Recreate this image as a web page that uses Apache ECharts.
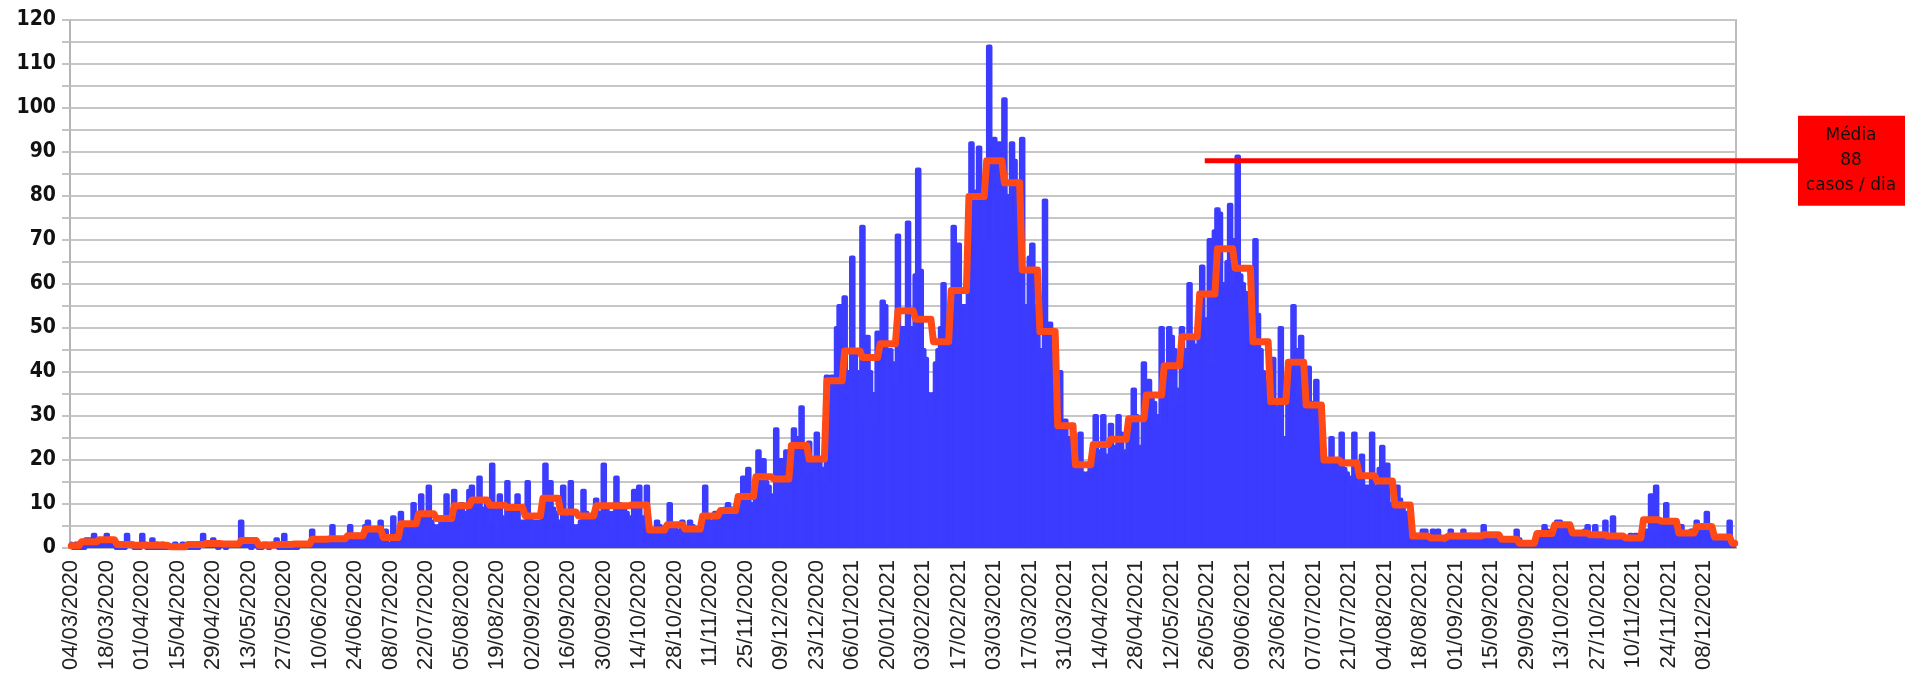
<!DOCTYPE html>
<html>
<head>
<meta charset="utf-8">
<title>Casos por dia</title>
<script src="https://cdn.jsdelivr.net/npm/echarts@6/dist/echarts.min.js"></script>
<style>
    html, body { margin: 0; padding: 0; background: #fff; }
    #chart { width: 1928px; height: 682px; }
</style>
</head>
<body>
<div id="chart"></div>
<script>
// casos por dia, uma linha por semana (domingo a sabado)
// a serie comeca na quarta-feira 04/03/2020
var casos2020 = [
    [1,0,1,0],
    [1,0,2,2,1,3,1], [2,1,2,3,2,2,1], [0,0,1,0,3,1,1], [0,0,0,3,1,0,0],
    [2,0,1,0,1,0,0], [0,0,1,0,0,1,0], [0,1,0,1,0,1,3], [1,1,1,2,1,0,1],
    [1,0,1,1,1,1,1], [6,1,2,1,0,1,1], [0,0,1,1,0,1,1], [2,0,0,3,0,1,0],
    [1,0,1,1,1,1,1], [4,1,2,2,2,2,1], [1,5,2,2,2,2,1], [2,5,3,3,3,2,2],
    [5,6,4,4,4,1,6], [1,4,1,1,7,2,1], [8,3,5,5,4,10,4], [5,12,7,6,14,6,5],
    [4,5,6,7,12,8,5], [13,7,9,10,8,7,13], [14,8,10,16,9,9,10], [6,19,9,9,12,7,6],
    [15,8,9,8,12,6,6], [6,15,7,6,6,6,5], [10,19,12,15,9,8,6], [6,14,7,6,15,5,4],
    [5,6,13,8,7,7,5], [11,8,7,19,9,8,5], [8,16,10,9,9,8,7], [7,13,9,14,7,5,14],
    [3,4,4,6,5,4,3], [5,10,4,5,4,3,6], [3,4,6,5,4,4,4], [5,14,7,6,6,8,5],
    [7,8,9,10,9,9,8], [9,10,16,11,18,10,8], [14,22,16,20,15,14,12], [10,27,13,20,10,22,8],
    [18,27,25,22,32,22,17], [24,18,20,26,20,18,15], [39,22,39,25,50,55,36]
];
var casos2021 = [
    [57,35,40,66,45,40,31], [73,30,48,40,35,28,49], [45,56,55,44,45,42,38], [71,45,50,45,74,50,42],
    [62,86,63,45,43,35,30], [35,42,45,50,60,50,46], [55,73,55,69,55,55,48], [70,92,81,75,91,80,70],
    [80,114,88,93,80,92,72], [102,80,75,92,88,75,69], [93,55,50,66,69,55,54], [45,40,79,40,51,45,44],
    [25,40,28,29,25,20,28], [20,18,26,17,16,17,18], [22,30,20,22,30,21,20], [28,22,23,30,26,22,22],
    [25,27,36,30,23,23,42], [30,38,35,33,30,28,50], [38,40,50,48,45,33,36], [50,45,42,60,48,46,45],
    [52,64,52,52,70,42,72], [77,76,60,60,65,78,60], [70,89,62,60,58,55,51], [45,70,53,45,40,38,37],
    [30,43,30,32,50,25,23], [38,42,55,45,35,48,32], [35,41,33,30,38,28,23], [20,19,18,25,20,20,18],
    [26,18,17,16,15,26,17], [14,21,14,14,13,26,13], [14,18,23,15,19,10,7], [12,14,11,10,8,8,6],
    [2,2,3,2,4,4,2], [2,4,2,4,2,1,1], [2,4,3,2,2,2,4], [3,3,3,2,3,3,2],
    [5,3,3,3,3,2,2], [2,2,1,2,2,1,4], [2,1,1,1,1,1,1], [2,3,3,5,4,3,3],
    [5,6,6,5,5,5,5], [3,3,3,3,3,4,5], [2,2,5,2,2,2,6], [2,2,7,2,2,2,2],
    [2,2,3,2,3,2,2], [3,4,4,12,4,14,4], [6,6,10,6,5,5,5], [3,5,3,3,3,4,3],
    [6,5,4,4,8,4,3], [2,2,2,2,2,2,6], [1,1]
];

// media semanal (linha laranja), um valor por semana
var media2020 = [0.5,1.4,1.9,0.8,0.6,0.6,0.3,0.8,1.0,0.9,1.7,0.6,0.8,0.9,2.0,2.1,2.8,4.3,2.4,5.5,
    7.8,6.7,9.6,10.9,9.7,9.2,7.3,11.3,8.2,7.3,9.6,9.6,9.8,4.1,5.3,4.3,7.3,8.5,11.7,16.2,15.7,23.3,20.2,38];
var media2021 = [44.8,43.3,46.4,53.9,52,46.9,58.5,79.9,88,83,63.2,49.2,27.8,18.9,23.5,24.7,29.4,34.8,
    41.4,48,57.7,68,63.6,46.9,33.3,42.2,32.5,20,19.3,16.4,15.2,9.8,2.7,2.3,2.7,2.7,3.0,2.0,1.1,3.3,
    5.3,3.4,3.0,2.7,2.3,6.4,6.1,3.4,4.9,2.5,1.1];

var inicio = Date.UTC(2020, 2, 4);
var mediaPico = 88;
var inicioMarca = '25/05/2021';

function dd(n) { return n < 10 ? '0' + n : '' + n; }
function fmtData(t) {
    var d = new Date(t);
    return dd(d.getUTCDate()) + '/' + dd(d.getUTCMonth() + 1) + '/' + d.getUTCFullYear();
}

var semanas = casos2020.concat(casos2021);
var medias = media2020.concat(media2021);
var dias = [], diario = [], mediaDiaria = [];
semanas.forEach(function (sem, s) {
    sem.forEach(function (v) {
        var i = dias.length;
        dias.push(fmtData(inicio + i * 864e5));
        diario.push(v);
        mediaDiaria.push(medias[s]);
    });
});

var azul = '#3c3cff';

var chart = echarts.init(document.getElementById('chart'));
chart.setOption({
    animation: false,
    backgroundColor: '#ffffff',
    grid: {
        left: 70, right: 192, top: 20, bottom: 134,
        show: true, borderColor: '#bdbdbd', borderWidth: 2
    },
    xAxis: {
        type: 'category',
        data: dias,
        boundaryGap: true,
        axisLine: { lineStyle: { color: '#b4b4b4', width: 2 } },
        axisTick: {
            alignWithLabel: true,
            interval: function (i) { return i % 7 === 0; },
            length: 7,
            lineStyle: { color: '#b4b4b4', width: 1 }
        },
        axisLabel: {
            interval: function (i) { return i % 14 === 0; },
            rotate: 90,
            margin: 12,
            fontFamily: "'Liberation Sans', Arial, sans-serif",
            fontSize: 22,
            color: '#222'
        },
        splitLine: { show: false }
    },
    yAxis: {
        type: 'value',
        min: 0, max: 120, interval: 5,
        axisLine: { show: true, lineStyle: { color: '#b4b4b4', width: 2 } },
        axisTick: { show: true, length: 8, lineStyle: { color: '#c4c4c4', width: 2 } },
        axisLabel: {
            formatter: function (v) { return v % 10 === 0 ? v : ''; },
            margin: 14,
            fontFamily: "'Liberation Sans Narrow', 'DejaVu Sans Condensed', sans-serif",
            fontWeight: 'bold',
            fontSize: 21,
            color: '#111'
        },
        splitLine: { lineStyle: { color: '#c6c6c6', width: 2 } }
    },
    series: [
        {
            // colunas diarias
            type: 'bar',
            data: diario,
            barCategoryGap: '0%',
            silent: true,
            itemStyle: { color: azul, borderColor: azul, borderWidth: 1 }
        },
        {
            // contorno grosso e preenchimento continuo das colunas
            type: 'line',
            data: diario,
            step: 'middle',
            showSymbol: false,
            silent: true,
            z: 2,
            lineStyle: { color: azul, width: 4, cap: 'round', join: 'round' },
            areaStyle: { color: azul, opacity: 1 }
        },
        {
            type: 'line',
            data: mediaDiaria,
            showSymbol: false,
            silent: true,
            z: 3,
            lineStyle: { color: '#ff4a17', width: 7, cap: 'round', join: 'round' }
        }
    ]
});

// marca da media de pico, ligada a caixa vermelha a direita
var yMedia = chart.convertToPixel({ yAxisIndex: 0 }, mediaPico);
var xMarca = chart.convertToPixel({ xAxisIndex: 0 }, inicioMarca);
chart.setOption({
    graphic: [
        {
            type: 'line', z: 100,
            shape: { x1: xMarca, y1: yMedia, x2: 1800, y2: yMedia },
            style: { stroke: '#ff0000', lineWidth: 5 }
        },
        {
            type: 'rect', z: 100,
            shape: { x: 1798, y: yMedia - 45, width: 107, height: 90 },
            style: { fill: '#ff0000' }
        },
        {
            type: 'text', z: 101,
            x: 1851, y: yMedia,
            style: {
                text: 'Média\n' + mediaPico + '\ncasos / dia',
                fill: '#111',
                font: "17px 'DejaVu Sans', sans-serif",
                lineHeight: 25,
                align: 'center',
                verticalAlign: 'middle'
            }
        }
    ]
});
</script>
</body>
</html>
